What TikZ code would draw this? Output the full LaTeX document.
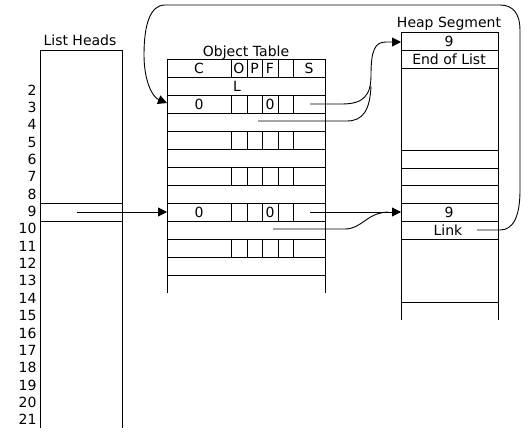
\documentclass[tikz,border=0pt]{standalone}
\usepackage{fontspec}
\setmainfont{DejaVu Sans}
\usetikzlibrary{arrows.meta}
\begin{document}
\begin{tikzpicture}[x=1pt,y=-1pt,line width=0.9pt,
  lbl/.style={inner sep=0pt,font=\fontsize{14}{16}\selectfont},
  arr/.style={-{Triangle[length=9pt,width=9pt]}}]
\useasboundingbox (0,0) rectangle (529,434);
% ---------- List Heads ----------
\draw (40,428) -- (40,50) -- (122,50) -- (122,428);
\draw (40,203.5) -- (122,203.5) (40,221.5) -- (122,221.5);
\node[lbl,anchor=base] (lhtitle) at (80,45) {List Heads};
\foreach \n in {2,...,21}
  \node[lbl,anchor=east] (num\n) at (37,{90+(\n-2)*17.35}) {\n};
% ---------- Object Table ----------
\draw (167,293) -- (167,59) -- (325,59) -- (325,293);
\foreach \y in {77,95,...,275} \draw (167,\y) -- (325,\y);
\foreach \y in {59,95,131,167,203,239}
  \foreach \x in {231,247,262,278,293}
    \draw (\x,\y) -- (\x,{\y+18});
\node[lbl,anchor=base] (ottitle) at (246,56) {Object Table};
\node[lbl] (hC) at (199,68) {C};
\node[lbl] (hO) at (239,68) {O};
\node[lbl] (hP) at (254.5,68) {P};
\node[lbl] (hF) at (270,68) {F};
\node[lbl] (hS) at (309,68) {S};
\node[lbl] (hL) at (237,86) {L};
\node[lbl] (r3c) at (199,104) {0};
\node[lbl] (r3f) at (270,104) {0};
\node[lbl] (r9c) at (199,212) {0};
\node[lbl] (r9f) at (270,212) {0};
% ---------- Heap Segment ----------
\draw (401,320) -- (401,32) -- (498,32) -- (498,320);
\foreach \y in {50,68,150,168,185,203,221,239,302} \draw (401,\y) -- (498,\y);
\node[lbl,anchor=base] (hstitle) at (449,27) {Heap Segment};
\node[lbl] (hs9a) at (449,41) {9};
\node[lbl] (hseol) at (449,59.5) {End of List};
\node[lbl] (hs9b) at (449,212) {9};
\node[lbl] (hslink) at (448,230) {Link};
% ---------- connectors ----------
\coordinate (a3) at (310,104);
\coordinate (h1) at (401,42);
\coordinate (a4) at (258,121);
\coordinate (a9) at (310,212);
\coordinate (h9) at (401,212);
\coordinate (a10) at (273,229);
\coordinate (l9) at (77,212);
\coordinate (o9) at (167,212);
\coordinate (lk) at (477,230);
\coordinate (o3) at (167,103);
\draw[arr] (a3) -- (342,104) .. controls (364,104) and (371,95) .. (371,75)
  .. controls (371,50) and (375,42) .. (386,42) -- (h1);
\draw (a4) -- (347,121) .. controls (363,121) and (370,110) .. (371,86);
\draw[arr] (a9) -- (h9);
\draw (a10) -- (345,229) .. controls (362,229) and (366,213) .. (388,212);
\draw[arr] (l9) -- (o9);
\draw[arr] (lk) -- (500,230) .. controls (514,230) and (520,215) .. (520,190)
  -- (520,30) .. controls (520,15) and (514,5) .. (500,5) -- (165,5)
  .. controls (150,5) and (144,25) .. (144,55)
  .. controls (144,80) and (152,97) .. (o3);
\end{tikzpicture}
\end{document}
